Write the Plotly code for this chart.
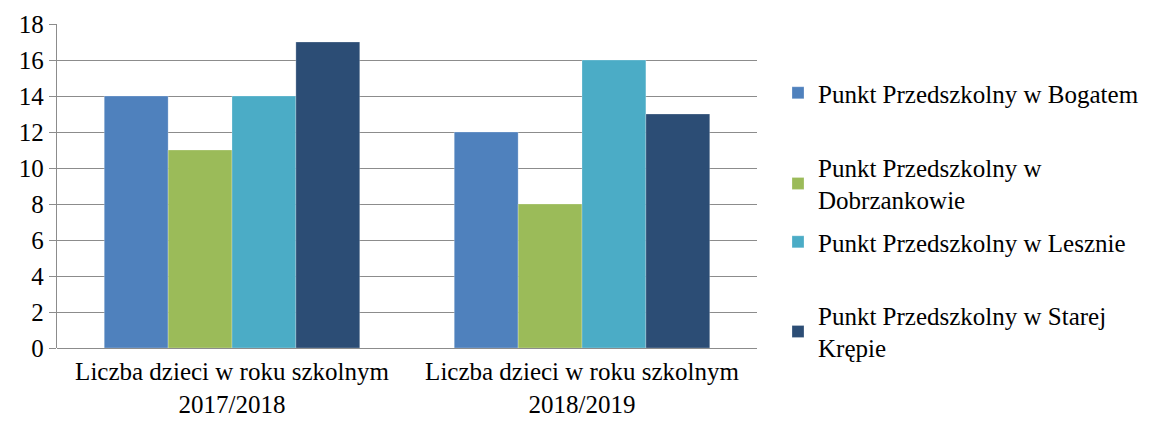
import plotly.graph_objects as go

categories = [
    "Liczba dzieci w roku szkolnym<br>2017/2018",
    "Liczba dzieci w roku szkolnym<br>2018/2019",
]
series_names = [
    "Punkt Przedszkolny w Bogatem",
    "Punkt Przedszkolny w<br>Dobrzankowie",
    "Punkt Przedszkolny w Lesznie",
    "Punkt Przedszkolny w Starej<br>Krępie",
]
series_values = [
    [14, 12],
    [11, 8],
    [14, 16],
    [17, 13],
]
colors = ["#4F81BD", "#9BBB59", "#4BACC6", "#2C4D75"]
y_ticks = [0, 2, 4, 6, 8, 10, 12, 14, 16, 18]

FONT = "Times New Roman"
# each legend entry gets its own legend box so the uneven spacing can be kept
legend_ids = ["legend", "legend2", "legend3", "legend4"]
legend_y = [0.787, 0.508, 0.327, 0.051]

fig = go.Figure()
for name, vals, col, lg in zip(series_names, series_values, colors, legend_ids):
    fig.add_trace(go.Bar(
        x=categories, y=vals, name=name, legend=lg,
        marker=dict(color=col, line=dict(color="rgba(255,255,255,0.5)", width=0.5)),
    ))

legend_style = dict(
    x=1.03, xanchor="left", yanchor="middle",
    font=dict(family=FONT, size=25, color="black"),
    bgcolor="rgba(0,0,0,0)", itemwidth=30,
)

# page body has an 8px margin, so the figure is shrunk by that much
fig.update_layout(
    width=1155, height=413,
    margin=dict(l=49, r=406, t=16, b=73),
    barmode="group", bargap=0.27, bargroupgap=0,
    plot_bgcolor="white", paper_bgcolor="white",
    font=dict(family=FONT, size=25, color="black"),
    showlegend=True,
    xaxis=dict(
        showline=False, ticks="", showgrid=False, automargin=False,
        tickfont=dict(family=FONT, size=25), ticklabelstandoff=6,
    ),
    yaxis=dict(
        range=[0, 18], tickvals=y_ticks, showgrid=True, automargin=False,
        gridcolor="#8C8C8C", gridwidth=1.3,
        showline=True, linecolor="#8C8C8C", linewidth=1.3,
        ticks="outside", ticklen=7, tickcolor="#8C8C8C",
        zeroline=True, zerolinecolor="#8C8C8C", zerolinewidth=1.3,
        tickfont=dict(family=FONT, size=25),
    ),
)
for lg, y in zip(legend_ids, legend_y):
    fig.update_layout({lg: dict(legend_style, y=y)})

fig.write_html("out.html")
